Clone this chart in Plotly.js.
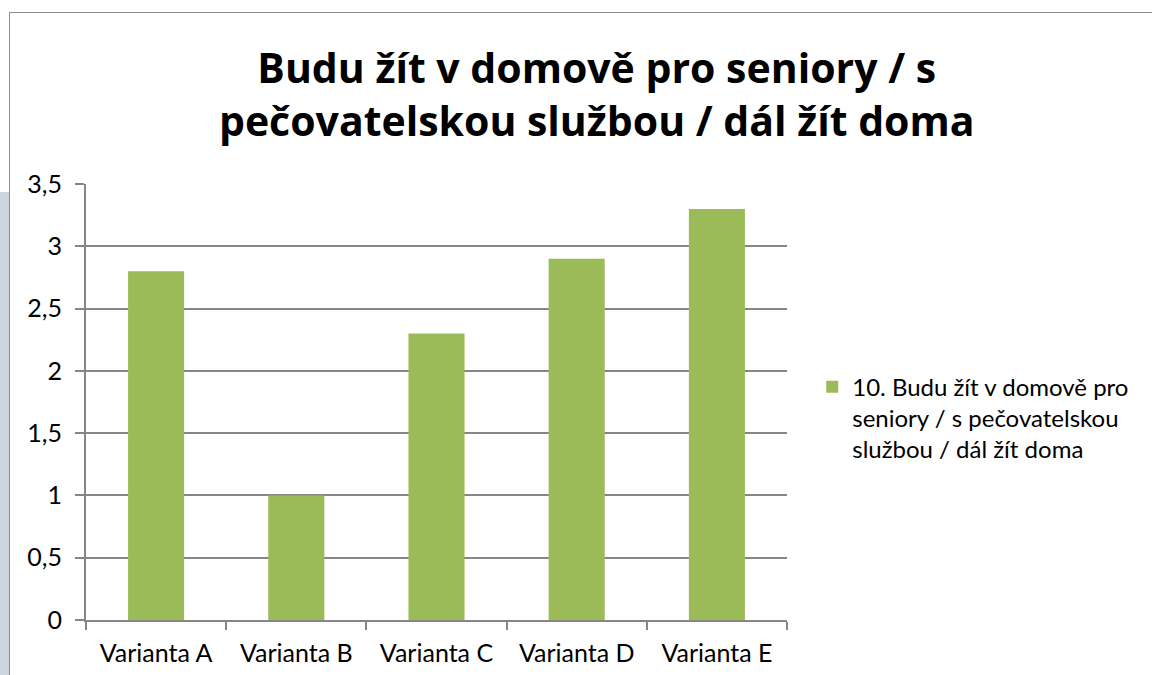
<!DOCTYPE html>
<html>
<head>
<meta charset="utf-8">
<script src="https://cdn.plot.ly/plotly-3.0.1.min.js"></script>
<style>
html,body{margin:0;padding:0;background:#fff;width:1152px;height:675px;overflow:hidden;}
#strip{position:absolute;left:0;top:192px;width:9px;height:483px;background:#cfd5de;}
#frame{position:absolute;left:9px;top:12px;width:1160px;height:700px;border:1px solid #8c8c8c;box-sizing:border-box;}
#chart{position:absolute;left:0;top:0;width:1152px;height:675px;}
</style>
</head>
<body>
<div id="strip"></div>
<div id="frame"></div>
<div id="chart"></div>
<script>
const categories = ["Varianta A","Varianta B","Varianta C","Varianta D","Varianta E"];
const values = [2.8, 1.0, 2.3, 2.9, 3.3];
const seriesName = "10. Budu žít v domově pro<br>seniory / s pečovatelskou<br>službou / dál žít doma";
const titleText = "Budu žít v domově pro seniory / s<br>pečovatelskou službou / dál žít doma";
const yTickVals = [0,0.5,1,1.5,2,2.5,3,3.5];
const yTickText = ["0","0,5","1","1,5","2","2,5","3","3,5"];

const FONT = "Lato, 'Open Sans', sans-serif";
const TFONT = "'Open Sans', sans-serif";

const trace = {
  type: "bar",
  x: categories,
  y: values,
  name: seriesName,
  marker: {color: "#9bbb59"},
  showlegend: true,
  hoverinfo: "x+y"
};

const layout = {
  width: 1152,
  height: 675,
  paper_bgcolor: "rgba(0,0,0,0)",
  plot_bgcolor: "rgba(0,0,0,0)",
  margin: {l: 86, r: 365, t: 184, b: 55},
  bargap: 0.6,
  font: {family: FONT, color: "#000", size: 25},
  title: {
    text: titleText,
    font: {family: TFONT, size: 41, color: "#000", weight: "bold"},
    x: 0.518, xanchor: "center",
    y: 0.877, yanchor: "top"
  },
  xaxis: {
    type: "category",
    showline: true, linecolor: "#868686", linewidth: 2,
    ticks: "outside", ticklen: 8, tickcolor: "#868686", tickwidth: 2,
    tickson: "boundaries",
    ticklabelstandoff: 10,
    showgrid: false,
    tickfont: {family: FONT, size: 25, color: "#000"},
    fixedrange: true
  },
  yaxis: {
    range: [0, 3.5],
    tickvals: yTickVals,
    ticktext: yTickText,
    showline: true, linecolor: "#868686", linewidth: 2,
    ticks: "outside", ticklen: 9, tickcolor: "#868686", tickwidth: 2,
    ticklabelstandoff: 8,
    showgrid: true, gridcolor: "#868686", gridwidth: 2,
    zeroline: false,
    tickfont: {family: FONT, size: 25, color: "#000"},
    fixedrange: true
  },
  legend: {
    x: 1.036, xanchor: "left",
    y: 0.463, yanchor: "middle",
    font: {family: FONT, size: 24, color: "#000"},
    valign: "top",
    bgcolor: "rgba(0,0,0,0)",
    itemwidth: 30
  }
};

Plotly.newPlot("chart", [trace], layout, {displayModeBar: false, staticPlot: true});
</script>
</body>
</html>
